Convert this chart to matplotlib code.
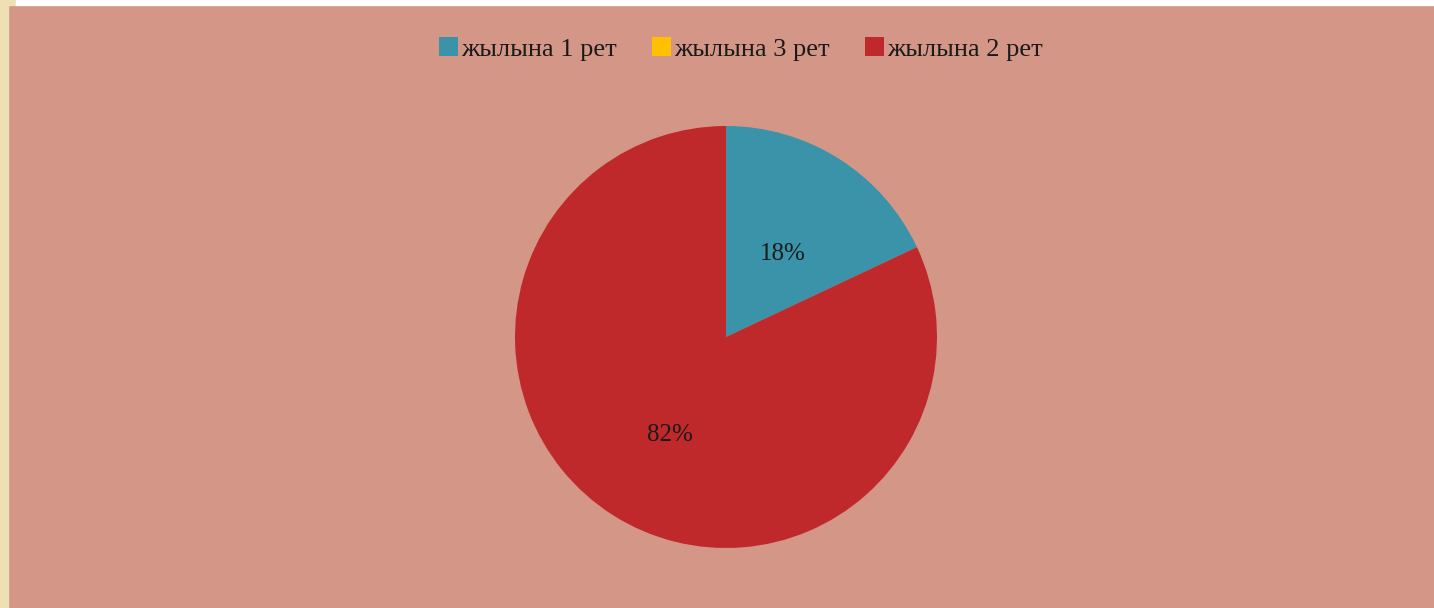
import matplotlib
matplotlib.use("Agg")
import matplotlib.pyplot as plt
from matplotlib.patches import Rectangle

categories = ["жылына 1 рет", "жылына 3 рет", "жылына 2 рет"]
values = [18, 0, 82]
colors = ["#3A93A8", "#FFC000", "#C0292B"]

W, H = 1434, 608
fig = plt.figure(figsize=(W / 100, H / 100), dpi=100)
fig.patch.set_facecolor("#D49686")
plt.rcParams['font.family'] = ['Liberation Serif', 'DejaVu Serif']

# decorative frame strips
fig.patches.append(Rectangle((0, 0), 8 / W, 1, transform=fig.transFigure, color="#EFE0B4", zorder=0))
fig.patches.append(Rectangle((0, 1 - 5 / H), 16 / W, 5 / H, transform=fig.transFigure, color="#EFE0B4", zorder=0))
fig.patches.append(Rectangle((16 / W, 1 - 5 / H), 1 - 16 / W, 5 / H, transform=fig.transFigure, color="white", zorder=0))

cx, cy, r = 726, 337, 211
ax = fig.add_axes([(cx - r) / W, (H - cy - r) / H, 2 * r / W, 2 * r / H])
ax.set_facecolor("none")

def fmt(p):
    return f"{p:.0f}%" if p > 0.5 else ""

wedges, texts, autotexts = ax.pie(values, colors=colors, startangle=90, counterclock=False,
                                  autopct=fmt, pctdistance=0.5, radius=1,
                                  textprops=dict(fontsize=18, color="#1a1a1a"),
                                  wedgeprops=dict(linewidth=0))
autotexts[0].set_y(autotexts[0].get_position()[1] - 0.03)
autotexts[2].set_y(autotexts[2].get_position()[1] - 0.04)
ax.set_xlim(-1, 1)
ax.set_ylim(-1, 1)
ax.set_aspect("equal")
ax.axis("off")

leg = fig.legend(wedges, categories, loc="center", bbox_to_anchor=(741 / W, 1 - 49 / H),
                 ncol=3, frameon=False, fontsize=19, handlelength=0.7, handleheight=0.7,
                 handletextpad=0.12, columnspacing=1.35)
for t in leg.get_texts():
    t.set_color("#1a1a1a")

fig.savefig("out.png", dpi=100, facecolor=fig.get_facecolor())
